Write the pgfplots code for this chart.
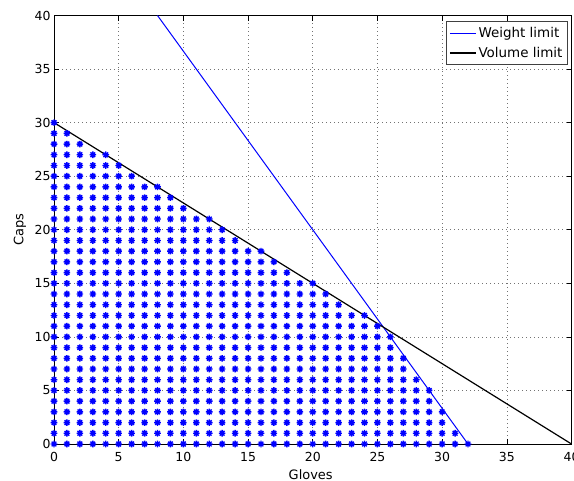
\documentclass[border=0pt]{standalone}
\usepackage{fontspec}
\setmainfont{DejaVu Sans}
\usepackage{pgfplots}
\pgfplotsset{compat=1.18}
% a dummy stroke first, then the legend line itself
\pgfplotsset{legend image code/.code={%
  \draw[#1, opacity=0] (0bp,0bp) -- (1bp,0bp);
  \draw[#1] (0bp,0bp) -- (26bp,0bp);}}

% MATLAB-like '*' marker: a plus and a cross
\pgfdeclareplotmark{mstar}{%
  \pgfpathmoveto{\pgfqpoint{-\pgfplotmarksize}{0pt}}%
  \pgfpathlineto{\pgfqpoint{\pgfplotmarksize}{0pt}}%
  \pgfpathmoveto{\pgfqpoint{0pt}{-\pgfplotmarksize}}%
  \pgfpathlineto{\pgfqpoint{0pt}{\pgfplotmarksize}}%
  \pgfpathmoveto{\pgfqpoint{-0.707\pgfplotmarksize}{-0.707\pgfplotmarksize}}%
  \pgfpathlineto{\pgfqpoint{0.707\pgfplotmarksize}{0.707\pgfplotmarksize}}%
  \pgfpathmoveto{\pgfqpoint{-0.707\pgfplotmarksize}{0.707\pgfplotmarksize}}%
  \pgfpathlineto{\pgfqpoint{0.707\pgfplotmarksize}{-0.707\pgfplotmarksize}}%
  \pgfusepathqstroke}

\begin{document}
\begin{tikzpicture}
\begin{axis}[
  at={(0,0)}, anchor=south west,
  scale only axis, width=517.5bp, height=428.5bp,
  xmin=0, xmax=40, ymin=0, ymax=40,
  xtick={0,5,...,40}, ytick={0,5,...,40},
  tick align=inside, major tick length=5bp,
  tick style={black, line width=0.6bp},
  axis line style={black, line width=0.8bp},
  grid=major,
  grid style={black!55, line width=0.6bp, dash pattern=on 1bp off 3bp},
  /pgf/number format/assume math mode=true,
  tick label style={font=\fontsize{12.5}{14}\selectfont},
  xticklabel style={yshift=-5bp},
  label style={font=\fontsize{13}{15}\selectfont},
  xlabel={Gloves}, ylabel={Caps},
  xlabel style={at={(axis description cs:0.496,-0.0712)}, anchor=center},
  ylabel style={at={(axis description cs:-0.0657,0.5)}, anchor=center},
  legend style={at={(0.9927,0.987)}, anchor=north east, draw=black!75,
    line width=0.6bp, font=\fontsize{13.5}{16}\selectfont,
    inner xsep=3bp, inner ysep=4bp, row sep=4bp},
  legend cell align=left,
]
% feasible integer points
\addplot[only marks, mark=mstar, mark size=3.3bp, blue,
  mark options={line width=1.4bp}, forget plot] coordinates {
(0,0)(0,1)(0,2)(0,3)(0,4)(0,5)(0,6)(0,7)(0,8)(0,9)(0,10)(0,11)(0,12)(0,13)(0,14)(0,15)(0,16)(0,17)(0,18)(0,19)(0,20)(0,21)(0,22)(0,23)(0,24)(0,25)(0,26)(0,27)(0,28)(0,29)(0,30)
(1,0)(1,1)(1,2)(1,3)(1,4)(1,5)(1,6)(1,7)(1,8)(1,9)(1,10)(1,11)(1,12)(1,13)(1,14)(1,15)(1,16)(1,17)(1,18)(1,19)(1,20)(1,21)(1,22)(1,23)(1,24)(1,25)(1,26)(1,27)(1,28)(1,29)
(2,0)(2,1)(2,2)(2,3)(2,4)(2,5)(2,6)(2,7)(2,8)(2,9)(2,10)(2,11)(2,12)(2,13)(2,14)(2,15)(2,16)(2,17)(2,18)(2,19)(2,20)(2,21)(2,22)(2,23)(2,24)(2,25)(2,26)(2,27)(2,28)
(3,0)(3,1)(3,2)(3,3)(3,4)(3,5)(3,6)(3,7)(3,8)(3,9)(3,10)(3,11)(3,12)(3,13)(3,14)(3,15)(3,16)(3,17)(3,18)(3,19)(3,20)(3,21)(3,22)(3,23)(3,24)(3,25)(3,26)(3,27)
(4,0)(4,1)(4,2)(4,3)(4,4)(4,5)(4,6)(4,7)(4,8)(4,9)(4,10)(4,11)(4,12)(4,13)(4,14)(4,15)(4,16)(4,17)(4,18)(4,19)(4,20)(4,21)(4,22)(4,23)(4,24)(4,25)(4,26)(4,27)
(5,0)(5,1)(5,2)(5,3)(5,4)(5,5)(5,6)(5,7)(5,8)(5,9)(5,10)(5,11)(5,12)(5,13)(5,14)(5,15)(5,16)(5,17)(5,18)(5,19)(5,20)(5,21)(5,22)(5,23)(5,24)(5,25)(5,26)
(6,0)(6,1)(6,2)(6,3)(6,4)(6,5)(6,6)(6,7)(6,8)(6,9)(6,10)(6,11)(6,12)(6,13)(6,14)(6,15)(6,16)(6,17)(6,18)(6,19)(6,20)(6,21)(6,22)(6,23)(6,24)(6,25)
(7,0)(7,1)(7,2)(7,3)(7,4)(7,5)(7,6)(7,7)(7,8)(7,9)(7,10)(7,11)(7,12)(7,13)(7,14)(7,15)(7,16)(7,17)(7,18)(7,19)(7,20)(7,21)(7,22)(7,23)(7,24)
(8,0)(8,1)(8,2)(8,3)(8,4)(8,5)(8,6)(8,7)(8,8)(8,9)(8,10)(8,11)(8,12)(8,13)(8,14)(8,15)(8,16)(8,17)(8,18)(8,19)(8,20)(8,21)(8,22)(8,23)(8,24)
(9,0)(9,1)(9,2)(9,3)(9,4)(9,5)(9,6)(9,7)(9,8)(9,9)(9,10)(9,11)(9,12)(9,13)(9,14)(9,15)(9,16)(9,17)(9,18)(9,19)(9,20)(9,21)(9,22)(9,23)
(10,0)(10,1)(10,2)(10,3)(10,4)(10,5)(10,6)(10,7)(10,8)(10,9)(10,10)(10,11)(10,12)(10,13)(10,14)(10,15)(10,16)(10,17)(10,18)(10,19)(10,20)(10,21)(10,22)
(11,0)(11,1)(11,2)(11,3)(11,4)(11,5)(11,6)(11,7)(11,8)(11,9)(11,10)(11,11)(11,12)(11,13)(11,14)(11,15)(11,16)(11,17)(11,18)(11,19)(11,20)(11,21)
(12,0)(12,1)(12,2)(12,3)(12,4)(12,5)(12,6)(12,7)(12,8)(12,9)(12,10)(12,11)(12,12)(12,13)(12,14)(12,15)(12,16)(12,17)(12,18)(12,19)(12,20)(12,21)
(13,0)(13,1)(13,2)(13,3)(13,4)(13,5)(13,6)(13,7)(13,8)(13,9)(13,10)(13,11)(13,12)(13,13)(13,14)(13,15)(13,16)(13,17)(13,18)(13,19)(13,20)
(14,0)(14,1)(14,2)(14,3)(14,4)(14,5)(14,6)(14,7)(14,8)(14,9)(14,10)(14,11)(14,12)(14,13)(14,14)(14,15)(14,16)(14,17)(14,18)(14,19)
(15,0)(15,1)(15,2)(15,3)(15,4)(15,5)(15,6)(15,7)(15,8)(15,9)(15,10)(15,11)(15,12)(15,13)(15,14)(15,15)(15,16)(15,17)(15,18)
(16,0)(16,1)(16,2)(16,3)(16,4)(16,5)(16,6)(16,7)(16,8)(16,9)(16,10)(16,11)(16,12)(16,13)(16,14)(16,15)(16,16)(16,17)(16,18)
(17,0)(17,1)(17,2)(17,3)(17,4)(17,5)(17,6)(17,7)(17,8)(17,9)(17,10)(17,11)(17,12)(17,13)(17,14)(17,15)(17,16)(17,17)
(18,0)(18,1)(18,2)(18,3)(18,4)(18,5)(18,6)(18,7)(18,8)(18,9)(18,10)(18,11)(18,12)(18,13)(18,14)(18,15)(18,16)
(19,0)(19,1)(19,2)(19,3)(19,4)(19,5)(19,6)(19,7)(19,8)(19,9)(19,10)(19,11)(19,12)(19,13)(19,14)(19,15)
(20,0)(20,1)(20,2)(20,3)(20,4)(20,5)(20,6)(20,7)(20,8)(20,9)(20,10)(20,11)(20,12)(20,13)(20,14)(20,15)
(21,0)(21,1)(21,2)(21,3)(21,4)(21,5)(21,6)(21,7)(21,8)(21,9)(21,10)(21,11)(21,12)(21,13)(21,14)
(22,0)(22,1)(22,2)(22,3)(22,4)(22,5)(22,6)(22,7)(22,8)(22,9)(22,10)(22,11)(22,12)(22,13)
(23,0)(23,1)(23,2)(23,3)(23,4)(23,5)(23,6)(23,7)(23,8)(23,9)(23,10)(23,11)(23,12)
(24,0)(24,1)(24,2)(24,3)(24,4)(24,5)(24,6)(24,7)(24,8)(24,9)(24,10)(24,11)(24,12)
(25,0)(25,1)(25,2)(25,3)(25,4)(25,5)(25,6)(25,7)(25,8)(25,9)(25,10)(25,11)
(26,0)(26,1)(26,2)(26,3)(26,4)(26,5)(26,6)(26,7)(26,8)(26,9)(26,10)
(27,0)(27,1)(27,2)(27,3)(27,4)(27,5)(27,6)(27,7)(27,8)
(28,0)(28,1)(28,2)(28,3)(28,4)(28,5)(28,6)
(29,0)(29,1)(29,2)(29,3)(29,4)(29,5)
(30,0)(30,1)(30,2)(30,3)
(31,0)(31,1)
(32,0)
};
\addplot[color=blue, line width=1bp, forget plot] coordinates {(8,40)(32,0)};
\addplot[color=black, line width=1.2bp, forget plot] coordinates {(0,30)(40,0)};
\addlegendimage{color=blue, line width=1.2bp}
\addlegendentry{Weight limit}
\addlegendimage{color=black, line width=1.2bp}
\addlegendentry{Volume limit}
\end{axis}
\pgfresetboundingbox
\useasboundingbox (-54bp,-37bp) rectangle (520bp,444bp);
\end{tikzpicture}
\end{document}
